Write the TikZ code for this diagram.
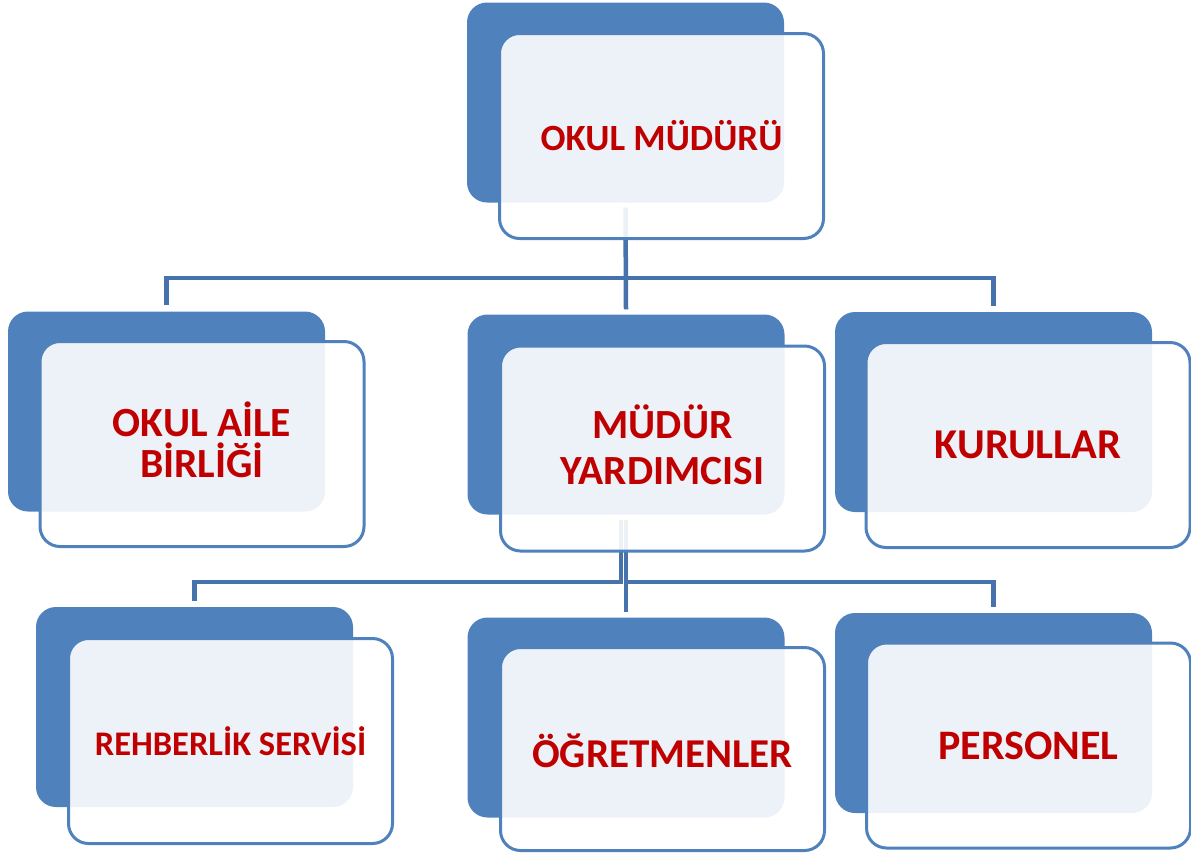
\documentclass[tikz,border=0pt]{standalone}
\usepackage{fontspec}
\setmainfont{Carlito}
\usetikzlibrary{calc}
\definecolor{boxblue}{HTML}{4F81BD}
\definecolor{connblue}{HTML}{4673AB}
\definecolor{textred}{HTML}{C00000}
\tikzset{
  backbox/.style={draw=none, fill=boxblue, rounded corners=20pt, minimum width=317pt, minimum height=200pt, inner sep=0pt},
  frontbox/.style={draw=boxblue, line width=3pt, fill=white, fill opacity=0.9, rounded corners=20pt, minimum width=324pt, minimum height=205pt, inner sep=0pt},
  boxtext/.style={text=textred, align=center, inner sep=0pt},
  conn/.style={draw=connblue, line width=4.5pt}
}
\begin{document}
\begin{tikzpicture}[x=1pt,y=-1pt]
\useasboundingbox (0,0) rectangle (1191,852);
\clip (0,0) rectangle (1191,852);
% back boxes
\node[backbox] (topb) at (625.5,102.5) {};
\node[backbox] (leftb) at (166.5,411.5) {};
\node[backbox] (midb) at (626,414.5) {};
\node[backbox] (rightb) at (993.5,412) {};
\node[backbox] (rlb) at (194.5,707) {};
\node[backbox] (rmb) at (626,717.5) {};
\node[backbox] (rrb) at (993.5,713) {};
% connector buses
\coordinate (bus1) at (625.5,278);
\coordinate (bus2l) at (621,582);
\coordinate (bus2r) at (626,582);
\draw[conn] ([yshift=-5pt]topb.south) -- ([yshift=5pt]midb.north);
\draw[conn] ([yshift=6pt]leftb.north) |- (bus1) -| ([yshift=6pt]rightb.north);
\draw[conn] ([xshift=-5pt,yshift=-5pt]midb.south) -- (bus2l) -| ([yshift=6pt]rlb.north);
\draw[conn] ([yshift=-5pt]midb.south) -- ([yshift=5pt]rmb.north);
\draw[conn] (bus2r) -| ([yshift=6pt]rrb.north);
% front boxes
\node[frontbox] (top) at (661.5,136) {};
\node[frontbox] (left) at (202,444) {};
\node[frontbox] (mid) at (662.5,448.5) {};
\node[frontbox] (right) at (1028,445) {};
\node[frontbox] (rl) at (230.5,741) {};
\node[frontbox, minimum height=203pt] (rm) at (662.5,749) {};
\node[frontbox] (rr) at (1028.5,745.5) {};
% texts
\node[boxtext, font=\fontsize{37}{40}\selectfont\bfseries] (topt) at (661.5,136) {OKUL MÜDÜRÜ};
\node[boxtext, font=\fontsize{41.5}{41}\selectfont\bfseries] (leftt) at (202,439.5) {OKUL AİLE\\BİRLİĞİ};
\node[boxtext, font=\fontsize{41.5}{46}\selectfont\bfseries] (midt) at (662.5,444.5) {MÜDÜR\\YARDIMCISI};
\node[boxtext, font=\fontsize{42.5}{46}\selectfont\bfseries] (rightt) at (1028,445) {KURULLAR};
\node[boxtext, font=\fontsize{34.5}{38}\selectfont\bfseries] (rlt) at (230.5,741) {REHBERLİK SERVİSİ};
\node[boxtext, font=\fontsize{41}{44}\selectfont\bfseries] (rmt) at (662.5,751) {ÖĞRETMENLER};
\node[boxtext, font=\fontsize{42}{44}\selectfont\bfseries] (rrt) at (1028.5,746) {PERSONEL};
\end{tikzpicture}
\end{document}
